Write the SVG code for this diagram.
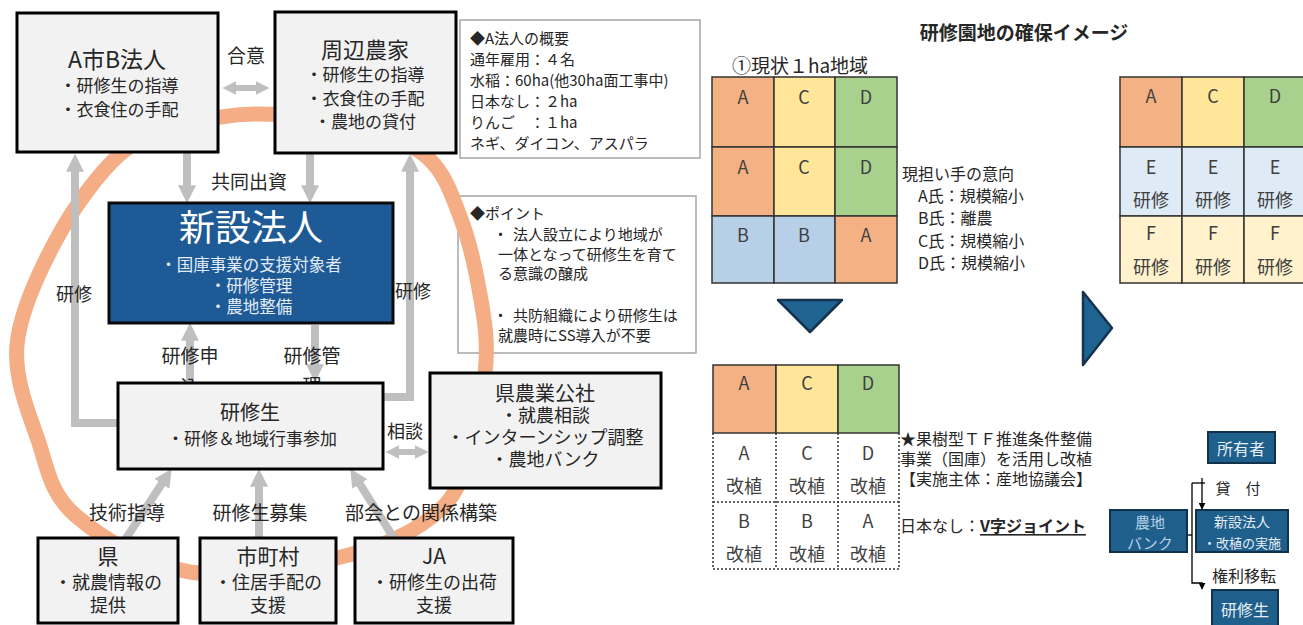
<svg xmlns="http://www.w3.org/2000/svg" width="1303" height="625" viewBox="0 0 1303 625">
<style>
text{font-family:"Noto Sans CJK JP","Noto Sans",sans-serif;fill:#262626;dominant-baseline:central}
.c{text-anchor:middle}
.nb{fill:#f2f2f2;stroke:#000;stroke-width:3}
.ib{fill:#fff;stroke:#a6a6a6;stroke-width:1.5}
.ga{fill:none;stroke:#bfbfbf;stroke-width:8;marker-end:url(#gah)}
.gd{fill:none;stroke:#bfbfbf;stroke-width:6;marker-start:url(#gah2);marker-end:url(#gah2)}
.bl{fill:#1f5f8b;stroke:#12314c;stroke-width:2}
.bt{fill:#e6eef6}
.g{stroke:#333;stroke-width:1.5}
.dot{stroke:#333;stroke-width:1.5;stroke-dasharray:2 2;fill:none}
.cl{fill:#404040;font-size:18px}
.k{stroke:#000;stroke-width:1.3;fill:none}
</style>
<defs>
<marker id="gah" viewBox="0 0 10 10" refX="1" refY="5" markerWidth="18" markerHeight="18" markerUnits="userSpaceOnUse" orient="auto-start-reverse"><path d="M0,0 L10,5 L0,10 z" fill="#bfbfbf"/></marker>
<marker id="gah2" viewBox="0 0 10 10" refX="1" refY="5" markerWidth="14" markerHeight="14" markerUnits="userSpaceOnUse" orient="auto-start-reverse"><path d="M0,0 L10,5 L0,10 z" fill="#bfbfbf"/></marker>
<marker id="kah" viewBox="0 0 10 10" refX="9" refY="5" markerWidth="7" markerHeight="7" markerUnits="userSpaceOnUse" orient="auto"><path d="M0,0 L10,5 L0,10 z" fill="#000"/></marker>
</defs>
<rect width="1303" height="625" fill="#fff"/>

<g id="info-a">
<rect class="ib" x="460" y="20" width="240" height="138"/>
<text x="470" y="37" font-size="15">◆A法人の概要</text>
<text x="470" y="58" font-size="15">通年雇用：４名</text>
<text x="470" y="79" font-size="15">水稲：60ha(他30ha面工事中)</text>
<text x="470" y="100" font-size="15">日本なし：２ha</text>
<text x="470" y="121" font-size="15">りんご　：１ha</text>
<text x="470" y="142" font-size="15">ネギ、ダイコン、アスパラ</text>
</g>
<g id="info-point">
<rect class="ib" x="458" y="196" width="238" height="157"/>
<text x="470" y="212" font-size="15">◆ポイント</text>
<text y="233" font-size="15"><tspan x="493">・</tspan><tspan x="513">法人設立により地域が</tspan></text>
<text x="498" y="253" font-size="15">一体となって研修生を育て</text>
<text x="498" y="272" font-size="15">る意識の醸成</text>
<text y="314" font-size="15"><tspan x="493">・</tspan><tspan x="513">共防組織により研修生は</tspan></text>
<text x="498" y="334" font-size="15">就農時にSS導入が不要</text>
</g>

<g id="ring">
<path d="M255,114 C283,113.7 321.3,116.8 350,124 C378.7,131.2 408.3,140.7 427,157 C445.7,173.3 453,198.2 462,222 C471,245.8 477,276.7 481,300 C485,323.3 487.3,338.7 486,362 C484.7,385.3 480.7,415.3 473,440 C465.3,464.7 461.3,490.7 440,510 C418.7,529.3 386.7,545.7 345,556 C303.3,566.3 235,578.8 190,572 C145,565.2 100.3,537 75,515 C49.7,493 47.7,468.3 38,440 C28.3,411.7 14,378.3 17,345 C20,311.7 39,271.7 56,240 C73,208.3 98,174 119,155 C140,136 159.3,132.8 182,126 C204.7,119.2 227,114.3 255,114 Z" fill="none" stroke="#f4ad84" stroke-width="15"/>
</g>

<g id="connectors">
<path class="gd" d="M235,88 H257"/>
<path class="ga" d="M187,150 V187"/>
<path class="ga" d="M310,150 V187"/>
<path class="ga" d="M121,423 H75 V170"/>
<path class="ga" d="M380,397 H410 V170"/>
<path class="ga" d="M190,385 V339"/>
<path class="ga" d="M315,325 V366"/>
<path class="gd" d="M398,452 H416"/>
<path class="ga" d="M125,540 L162.8,482.3"/>
<path class="ga" d="M259,540 V485"/>
<path class="ga" d="M395,540 L358.9,482.5"/>
<text class="c" x="246" y="54" font-size="19">合意</text>
<text class="c" x="249" y="180" font-size="19">共同出資</text>
<text class="c" x="74" y="293" font-size="18">研修</text>
<text class="c" x="413" y="290" font-size="18">研修</text>
<text class="c" font-size="19"><tspan x="190" y="354">研修申</tspan><tspan x="190" y="385">込</tspan></text>
<text class="c" font-size="19"><tspan x="312" y="354">研修管</tspan><tspan x="312" y="384">理</tspan></text>
<text class="c" x="405" y="430" font-size="18">相談</text>
<text class="c" x="127" y="511" font-size="19">技術指導</text>
<text class="c" x="260" y="511" font-size="19">研修生募集</text>
<text class="c" x="421" y="511" font-size="19">部会との関係構築</text>
</g>

<g id="node-a-city">
<rect class="nb" x="17" y="13" width="201" height="139"/>
<text class="c" x="117" y="58" font-size="23">A市B法人</text>
<text class="c" x="119" y="84" font-size="17">・研修生の指導</text>
<text class="c" x="119" y="108" font-size="17">・衣食住の手配</text>
</g>
<g id="node-farmers">
<rect class="nb" x="275" y="12" width="181" height="141"/>
<text class="c" x="365" y="48" font-size="22">周辺農家</text>
<text class="c" x="365" y="73" font-size="17">・研修生の指導</text>
<text class="c" x="365" y="97" font-size="17">・衣食住の手配</text>
<text class="c" x="365" y="120" font-size="17">・農地の貸付</text>
</g>
<g id="node-new-corp">
<rect x="109" y="203" width="284" height="120" fill="#1d5a96" stroke="#0a0a0a" stroke-width="3"/>
<text class="c" x="251" y="225" font-size="36" style="fill:#fff">新設法人</text>
<text class="c" x="251" y="264" font-size="16.5" style="fill:#e3ecf6">・国庫事業の支援対象者</text>
<text class="c" x="251" y="285" font-size="16.5" style="fill:#e3ecf6">・研修管理</text>
<text class="c" x="251" y="306" font-size="16.5" style="fill:#e3ecf6">・農地整備</text>
</g>
<g id="node-trainee">
<rect class="nb" x="118" y="383" width="265" height="86"/>
<text class="c" x="250" y="411" font-size="20">研修生</text>
<text class="c" x="252" y="437" font-size="17">・研修＆地域行事参加</text>
</g>
<g id="node-pref-corp">
<rect class="nb" x="430" y="373" width="231" height="115"/>
<text class="c" x="545" y="392" font-size="20">県農業公社</text>
<text class="c" x="545" y="414" font-size="18">・就農相談</text>
<text class="c" x="545" y="436" font-size="18">・インターンシップ調整</text>
<text class="c" x="545" y="458" font-size="18">・農地バンク</text>
</g>
<g id="node-pref">
<rect class="nb" x="38" y="538" width="140" height="85"/>
<text class="c" x="108" y="555" font-size="21">県</text>
<text class="c" x="108" y="581" font-size="18">・就農情報の</text>
<text class="c" x="108" y="604" font-size="18">提供</text>
</g>
<g id="node-city">
<rect class="nb" x="200" y="538" width="136" height="85"/>
<text class="c" x="268" y="555" font-size="21">市町村</text>
<text class="c" x="268" y="581" font-size="18">・住居手配の</text>
<text class="c" x="268" y="604" font-size="18">支援</text>
</g>
<g id="node-ja">
<rect class="nb" x="355" y="538" width="158" height="85"/>
<text class="c" x="434" y="555" font-size="21">JA</text>
<text class="c" x="434" y="581" font-size="18">・研修生の出荷</text>
<text class="c" x="434" y="604" font-size="18">支援</text>
</g>

<g id="title">
<text class="c" x="1024" y="31" font-size="19" font-weight="bold">研修園地の確保イメージ</text>
<text class="c" x="800" y="64" font-size="19">①現状１ha地域</text>
</g>

<g id="grid-current">
<rect class="g" x="712" y="77" width="62" height="70" fill="#f4b183"/>
<rect class="g" x="774" y="77" width="61" height="70" fill="#ffe699"/>
<rect class="g" x="835" y="77" width="62" height="70" fill="#a9d18e"/>
<rect class="g" x="712" y="147" width="62" height="69" fill="#f4b183"/>
<rect class="g" x="774" y="147" width="61" height="69" fill="#ffe699"/>
<rect class="g" x="835" y="147" width="62" height="69" fill="#a9d18e"/>
<rect class="g" x="712" y="216" width="62" height="67" fill="#b8cfe8"/>
<rect class="g" x="774" y="216" width="61" height="67" fill="#b8cfe8"/>
<rect class="g" x="835" y="216" width="62" height="67" fill="#f4b183"/>
<text class="c cl" x="743" y="96">A</text><text class="c cl" x="804" y="96">C</text><text class="c cl" x="866" y="96">D</text>
<text class="c cl" x="743" y="166">A</text><text class="c cl" x="804" y="166">C</text><text class="c cl" x="866" y="166">D</text>
<text class="c cl" x="743" y="234">B</text><text class="c cl" x="804" y="234">B</text><text class="c cl" x="866" y="234">A</text>
</g>
<g id="intent">
<text x="902" y="173" font-size="16">現担い手の意向</text>
<text x="918" y="195" font-size="16">A氏：規模縮小</text>
<text x="918" y="217" font-size="16">B氏：離農</text>
<text x="918" y="240" font-size="16">C氏：規模縮小</text>
<text x="918" y="262" font-size="16">D氏：規模縮小</text>
</g>

<g id="chevrons">
<polygon points="778,300 842,300 810,332" fill="#1f6390" stroke="#16324f" stroke-width="2.5" stroke-linejoin="round"/>
<polygon points="1083,292 1112,328 1083,365" fill="#1f6390" stroke="#16324f" stroke-width="2.5" stroke-linejoin="round"/>
</g>

<g id="grid-future">
<rect class="g" x="1120" y="77" width="62" height="70" fill="#f4b183"/>
<rect class="g" x="1182" y="77" width="62" height="70" fill="#ffe699"/>
<rect class="g" x="1244" y="77" width="62" height="70" fill="#a9d18e"/>
<rect class="g" x="1120" y="147" width="62" height="69" fill="#deebf7"/>
<rect class="g" x="1182" y="147" width="62" height="69" fill="#deebf7"/>
<rect class="g" x="1244" y="147" width="62" height="69" fill="#deebf7"/>
<rect class="g" x="1120" y="216" width="62" height="67" fill="#fff2cc"/>
<rect class="g" x="1182" y="216" width="62" height="67" fill="#fff2cc"/>
<rect class="g" x="1244" y="216" width="62" height="67" fill="#fff2cc"/>
<text class="c cl" x="1151" y="95">A</text><text class="c cl" x="1213" y="95">C</text><text class="c cl" x="1275" y="95">D</text>
<text class="c cl" x="1151" y="166">E</text><text class="c cl" x="1213" y="166">E</text><text class="c cl" x="1275" y="166">E</text>
<text class="c cl" x="1151" y="199">研修</text><text class="c cl" x="1213" y="199">研修</text><text class="c cl" x="1275" y="199">研修</text>
<text class="c cl" x="1151" y="232">F</text><text class="c cl" x="1213" y="232">F</text><text class="c cl" x="1275" y="232">F</text>
<text class="c cl" x="1151" y="266">研修</text><text class="c cl" x="1213" y="266">研修</text><text class="c cl" x="1275" y="266">研修</text>
</g>

<g id="grid-replant">
<rect class="g" x="713" y="365" width="63" height="68" fill="#f4b183"/>
<rect class="g" x="776" y="365" width="62" height="68" fill="#ffe699"/>
<rect class="g" x="838" y="365" width="61" height="68" fill="#a9d18e"/>
<path class="dot" d="M713,433 V569 H899 V433 M776,433 V569 M838,433 V569 M713,502 H899"/>
<text class="c cl" x="744" y="382">A</text><text class="c cl" x="807" y="382">C</text><text class="c cl" x="868" y="382">D</text>
<text class="c cl" x="744" y="452">A</text><text class="c cl" x="807" y="452">C</text><text class="c cl" x="868" y="452">D</text>
<text class="c cl" x="744" y="485">改植</text><text class="c cl" x="807" y="485">改植</text><text class="c cl" x="868" y="485">改植</text>
<text class="c cl" x="744" y="520">B</text><text class="c cl" x="807" y="520">B</text><text class="c cl" x="868" y="520">A</text>
<text class="c cl" x="744" y="553">改植</text><text class="c cl" x="807" y="553">改植</text><text class="c cl" x="868" y="553">改植</text>
</g>
<g id="replant-note">
<text x="900" y="438" font-size="16">★果樹型ＴＦ推進条件整備</text>
<text x="900" y="458" font-size="16">事業（国庫）を活用し改植</text>
<text x="900" y="478" font-size="16">【実施主体：産地協議会】</text>
<text x="900" y="525" font-size="16">日本なし：<tspan font-weight="bold" text-decoration="underline">V字ジョイント</tspan></text>
</g>

<g id="flow-connectors">
<path class="k" d="M1187,535 H1192"/>
<path class="k" d="M1192,483 H1205"/>
<path class="k" d="M1202,478 V509" marker-end="url(#kah)"/>
<path class="k" d="M1192,483 V583 H1202 V589" marker-end="url(#kah)"/>
<text class="c" x="1238" y="487" font-size="15">貸　付</text>
<text class="c" x="1244" y="575" font-size="16">権利移転</text>
</g>
<g id="flow-owner">
<rect class="bl" x="1208" y="432" width="67" height="31"/>
<text class="c bt" x="1241" y="448" font-size="16">所有者</text>
</g>
<g id="flow-newcorp">
<rect class="bl" x="1196" y="510" width="92" height="42"/>
<text class="c bt" x="1242" y="521" font-size="14">新設法人</text>
<text class="c bt" x="1242" y="542" font-size="13">・改植の実施</text>
</g>
<g id="flow-bank">
<rect class="bl" x="1110" y="510" width="77" height="42"/>
<text class="c" x="1150" y="521" font-size="15" style="fill:#b4cfe8">農地</text>
<text class="c" x="1150" y="542" font-size="15" style="fill:#b4cfe8">バンク</text>
</g>
<g id="flow-trainee">
<rect class="bl" x="1212" y="590" width="66" height="40"/>
<text class="c bt" x="1245" y="609" font-size="16">研修生</text>
</g>
</svg>
